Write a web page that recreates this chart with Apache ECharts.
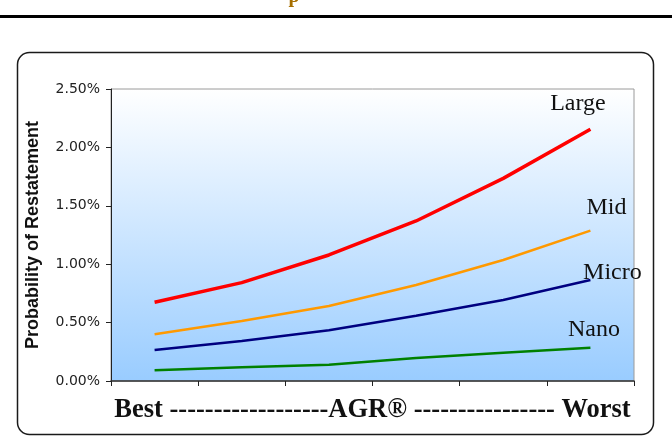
<!DOCTYPE html>
<html>
<head>
<meta charset="utf-8">
<script src="https://cdn.jsdelivr.net/npm/echarts@6/dist/echarts.min.js"></script>
<style>
  html, body { margin: 0; padding: 0; background: #ffffff; }
  #chart { width: 672px; height: 444px; }
</style>
</head>
<body>
<div id="chart"></div>
<script>
// AGR buckets from best to worst
const categories = ['1', '2', '3', '4', '5', '6'];

// Probability of restatement (%) by market-cap group
const large = [0.674, 0.842, 1.079, 1.370, 1.735, 2.155];
const mid   = [0.400, 0.514, 0.642, 0.822, 1.036, 1.287];
const micro = [0.265, 0.342, 0.434, 0.559, 0.693, 0.865];
const nano  = [0.092, 0.117, 0.140, 0.197, 0.242, 0.285];

const yTicks = [0, 0.5, 1.0, 1.5, 2.0, 2.5];

const chart = echarts.init(document.getElementById('chart'), null, { renderer: 'canvas' });

// Put a text label next to the last point of a line
function withEndLabel(values, name, offset) {
  return values.map((v, i) => {
    if (i !== values.length - 1) return v;
    return {
      value: v,
      label: {
        show: true,
        formatter: name,
        position: offset,
        align: 'center',
        verticalAlign: 'middle',
        fontFamily: '"Liberation Serif", serif',
        fontSize: 24,
        color: '#111'
      }
    };
  });
}

function lineSeries(name, values, color, width, offset) {
  return {
    name: name,
    type: 'line',
    data: withEndLabel(values, name, offset),
    showSymbol: true,
    symbol: 'circle',
    symbolSize: 0,
    lineStyle: { color: color, width: width },
    itemStyle: { color: color },
    silent: true,
    z: 3
  };
}

chart.setOption({
  animation: false,
  grid: {
    left: 111, right: 38, top: 89, bottom: 63,
    show: true,
    borderColor: '#9a9a9a',
    borderWidth: 1,
    backgroundColor: new echarts.graphic.LinearGradient(0, 0, 0, 1, [
      { offset: 0, color: '#ffffff' },
      { offset: 1, color: '#99ccff' }
    ])
  },
  xAxis: {
    type: 'category',
    data: categories,
    boundaryGap: true,
    axisLine: { lineStyle: { color: '#333', width: 1.5 } },
    axisTick: { show: true, length: 5, lineStyle: { color: '#222' }, alignWithLabel: false },
    axisLabel: { show: false },
    splitLine: { show: false },
    name: 'Best ------------------AGR® ---------------- Worst',
    nameLocation: 'middle',
    nameGap: 29,
    nameTextStyle: {
      fontFamily: '"Liberation Serif", serif',
      fontWeight: 'bold',
      fontSize: 26.5,
      color: '#111',
      verticalAlign: 'middle'
    }
  },
  yAxis: {
    type: 'value',
    min: yTicks[0],
    max: yTicks[yTicks.length - 1],
    interval: 0.5,
    axisLine: { show: true, lineStyle: { color: '#222', width: 1 } },
    axisTick: { show: true, length: 5, lineStyle: { color: '#222' } },
    splitLine: { show: false },
    axisLabel: {
      formatter: v => v.toFixed(2) + '%',
      fontFamily: '"DejaVu Sans", Verdana, sans-serif',
      fontSize: 14,
      color: '#222',
      margin: 11
    },
    name: 'Probability of Restatement',
    nameLocation: 'middle',
    nameRotate: 90,
    nameGap: 69,
    nameTextStyle: {
      fontFamily: '"Liberation Sans", Arial, sans-serif',
      fontWeight: 'bold',
      fontSize: 18,
      color: '#111'
    }
  },
  series: [
    lineSeries('Large', large, '#ff0000', 3.5, [-12.5, -26]),
    lineSeries('Mid',   mid,   '#ff9900', 2.5, [16, -23]),
    lineSeries('Micro', micro, '#000080', 2.5, [22, -7.5]),
    lineSeries('Nano',  nano,  '#008000', 2.5, [3.5, -18])
  ],
  graphic: [
    {
      type: 'rect',
      shape: { x: 0, y: 15, width: 672, height: 3 },
      style: { fill: '#000' },
      silent: true
    },
    {
      type: 'text',
      x: 294, y: 7,
      style: {
        text: 'p',
        fontFamily: '"Liberation Serif", serif',
        fontWeight: 'bold',
        fontSize: 20,
        fill: '#a66f00',
        align: 'center',
        verticalAlign: 'bottom'
      },
      silent: true
    },
    {
      type: 'rect',
      shape: { x: 17.5, y: 52.5, width: 636, height: 382, r: 12 },
      style: { fill: 'none', stroke: '#1a1a1a', lineWidth: 1.5 },
      silent: true,
      z: -1
    }
  ]
});
</script>
</body>
</html>
